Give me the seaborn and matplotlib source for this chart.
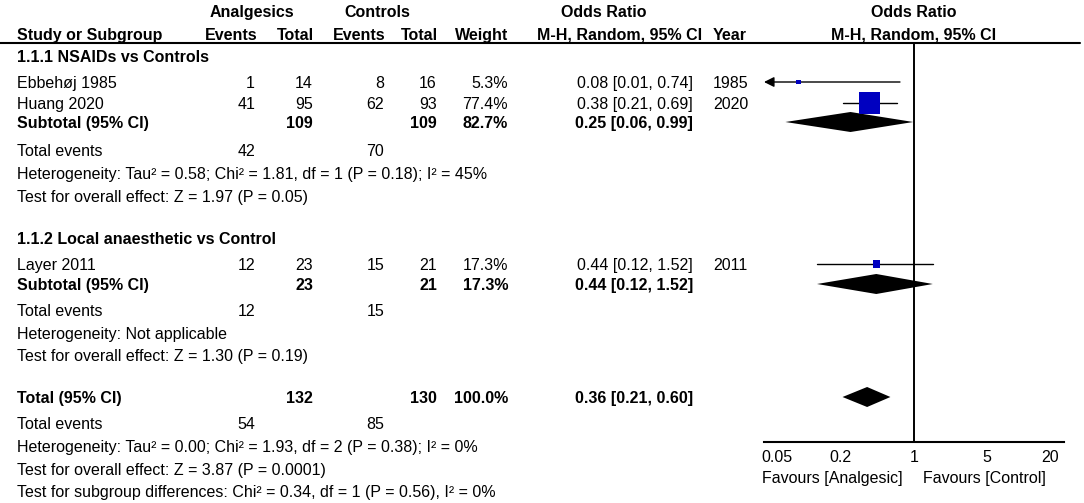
import matplotlib
matplotlib.use("Agg")
import matplotlib.pyplot as plt
import numpy as np
import pandas as pd
import seaborn as sns

# ---- data -------------------------------------------------------------
studies = ["Ebbehøj 1985", "Huang 2020", "Layer 2011"]
years = ["1985", "2020", "2011"]
study_group = [0, 0, 1]
ev_a = [1, 41, 12]
n_a = [14, 95, 23]
ev_c = [8, 62, 15]
n_c = [16, 93, 21]
weight = [5.3, 77.4, 17.3]
or_est = [0.08, 0.38, 0.44]
ci_lo = [0.01, 0.21, 0.12]
ci_hi = [0.74, 0.69, 1.52]

groups = ["1.1.1 NSAIDs vs Controls", "1.1.2 Local anaesthetic vs Control"]
sub_n_a = [109, 23]
sub_n_c = [109, 21]
sub_ev_a = [42, 12]
sub_ev_c = [70, 15]
sub_weight = [82.7, 17.3]
sub_or = [0.25, 0.44]
sub_lo = [0.06, 0.12]
sub_hi = [0.99, 1.52]
sub_het = ["Heterogeneity: Tau² = 0.58; Chi² = 1.81, df = 1 (P = 0.18); I² = 45%",
           "Heterogeneity: Not applicable"]
sub_test = ["Test for overall effect: Z = 1.97 (P = 0.05)",
            "Test for overall effect: Z = 1.30 (P = 0.19)"]

tot_n_a, tot_n_c, tot_weight = 132, 130, 100.0
tot_ev_a, tot_ev_c = 54, 85
tot_or, tot_lo, tot_hi = 0.36, 0.21, 0.60
tot_het = "Heterogeneity: Tau² = 0.00; Chi² = 1.93, df = 2 (P = 0.38); I² = 0%"
tot_test = "Test for overall effect: Z = 3.87 (P = 0.0001)"
tot_sub = "Test for subgroup differences: Chi² = 0.34, df = 1 (P = 0.56), I² = 0%"

ticks = [0.05, 0.2, 1, 5, 20]
tick_labels = ["0.05", "0.2", "1", "5", "20"]

# ---- layout (pixels) --------------------------------------------------
W, H = 1084, 503
FS = 11.5
col = dict(ev_a=255, n_a=313, ev_c=384, n_c=437, wt=508, ci=693, yr=748)
study_y = [82, 103, 264]
group_y = [56, 238]
sub_y = [122, 284]
sub_events_y = [150, 310]
sub_het_y = [173, 333]
sub_test_y = [196, 355]
tot_y, tot_events_y, tot_het_y, tot_test_y, tot_sub_y = 397, 423, 446, 469, 491
line_y, axis_y = 42.5, 441.7
x_one, px_dec = 913.7, 105.0
plot_left, plot_right = 764, 1064
BLUE = "#0000C0"

sns.set_style("white")
plt.rcParams["font.family"] = ["Liberation Sans", "DejaVu Sans"]

fig = plt.figure(figsize=(W / 100, H / 100), dpi=100)
tx = fig.add_axes([0, 0, 1, 1])
tx.set_xlim(0, W)
tx.set_ylim(H, 0)
tx.axis("off")


def put(x, y, s, ha="left", bold=False):
    tx.text(x, y + 5.6, s, ha=ha, va="baseline", fontsize=FS,
            fontweight="bold" if bold else "normal", color="black")


def fmt_ci(e, l, h):
    return f"{e:.2f} [{l:.2f}, {h:.2f}]"


# headers
put(252, 11.5, "Analgesics", "center", True)
put(377, 11.5, "Controls", "center", True)
put(604, 11.5, "Odds Ratio", "center", True)
put(x_one, 11.5, "Odds Ratio", "center", True)
put(17, 34, "Study or Subgroup", bold=True)
put(257, 34, "Events", "right", True)
put(314, 34, "Total", "right", True)
put(385, 34, "Events", "right", True)
put(438, 34, "Total", "right", True)
put(508, 34, "Weight", "right", True)
put(620, 34, "M-H, Random, 95% CI", "center", True)
put(713, 34, "Year", bold=True)
put(x_one, 34, "M-H, Random, 95% CI", "center", True)
tx.plot([0, 1080], [line_y, line_y], color="black", lw=1.5)

# forest axes
xlo = 10 ** ((plot_left - x_one) / px_dec)
xhi = 10 ** ((plot_right - x_one) / px_dec)
ax = fig.add_axes([plot_left / W, 1 - axis_y / H,
                   (plot_right - plot_left) / W, (axis_y - line_y) / H])
ax.patch.set_alpha(0)

for g, name in enumerate(groups):
    put(17, group_y[g], name, bold=True)
    idx = [i for i, s in enumerate(study_group) if s == g]
    for i in idx:
        y = study_y[i]
        put(17, y, studies[i])
        put(col["ev_a"], y, str(ev_a[i]), "right")
        put(col["n_a"], y, str(n_a[i]), "right")
        put(col["ev_c"], y, str(ev_c[i]), "right")
        put(col["n_c"], y, str(n_c[i]), "right")
        put(col["wt"], y, f"{weight[i]:.1f}%", "right")
        put(col["ci"], y, fmt_ci(or_est[i], ci_lo[i], ci_hi[i]), "right")
        put(col["yr"], y, years[i], "right")
        if ci_lo[i] < xlo:
            ax.annotate("", xy=(xlo, y), xytext=(ci_hi[i], y),
                        arrowprops=dict(arrowstyle="-|>", color="black", lw=1,
                                        mutation_scale=15, shrinkA=0, shrinkB=0),
                        annotation_clip=False)
        else:
            ax.plot([ci_lo[i], ci_hi[i]], [y, y], color="black", lw=1)
    y = sub_y[g]
    put(17, y, "Subtotal (95% CI)", bold=True)
    put(col["n_a"], y, str(sub_n_a[g]), "right", True)
    put(col["n_c"], y, str(sub_n_c[g]), "right", True)
    put(col["wt"], y, f"{sub_weight[g]:.1f}%", "right", True)
    put(col["ci"], y, fmt_ci(sub_or[g], sub_lo[g], sub_hi[g]), "right", True)
    ax.fill([sub_lo[g], sub_or[g], sub_hi[g], sub_or[g]],
            [y, y - 10, y, y + 10], color="black", lw=0)
    put(17, sub_events_y[g], "Total events")
    put(col["ev_a"], sub_events_y[g], str(sub_ev_a[g]), "right")
    put(col["ev_c"], sub_events_y[g], str(sub_ev_c[g]), "right")
    put(17, sub_het_y[g], sub_het[g])
    put(17, sub_test_y[g], sub_test[g])

# overall
put(17, tot_y, "Total (95% CI)", bold=True)
put(col["n_a"], tot_y, str(tot_n_a), "right", True)
put(col["n_c"], tot_y, str(tot_n_c), "right", True)
put(col["wt"], tot_y, f"{tot_weight:.1f}%", "right", True)
put(col["ci"], tot_y, fmt_ci(tot_or, tot_lo, tot_hi), "right", True)
ax.fill([tot_lo, tot_or, tot_hi, tot_or],
        [tot_y, tot_y - 10, tot_y, tot_y + 10], color="black", lw=0)
put(17, tot_events_y, "Total events")
put(col["ev_a"], tot_events_y, str(tot_ev_a), "right")
put(col["ev_c"], tot_events_y, str(tot_ev_c), "right")
put(17, tot_het_y, tot_het)
put(17, tot_test_y, tot_test)
put(17, tot_sub_y, tot_sub)

# study squares, side grows with weight
side_pt = (3.2 + 0.23 * np.array(weight)) * 0.72
df = pd.DataFrame({"or": or_est, "y": study_y})
sns.scatterplot(data=df, x="or", y="y", marker="s", s=side_pt ** 2,
                color=BLUE, linewidth=0, legend=False, ax=ax, zorder=3)

ax.axvline(1, color="black", lw=1.4)
ax.set_xscale("log")
ax.set_xlim(xlo, xhi)
ax.set_ylim(axis_y, line_y)
ax.set_xlabel("")
ax.set_ylabel("")
ax.set_yticks([])
ax.set_xticks(ticks)
ax.set_xticklabels(tick_labels, fontsize=FS)
ax.minorticks_off()
ax.tick_params(axis="x", direction="inout", length=8, width=1.5, pad=2,
               colors="black")
for side in ["top", "left", "right"]:
    ax.spines[side].set_visible(False)
ax.spines["bottom"].set_linewidth(1.5)
ax.spines["bottom"].set_color("black")

put(903, 477, "Favours [Analgesic]", "right")
put(923, 477, "Favours [Control]")

fig.savefig("out.png", dpi=100)
